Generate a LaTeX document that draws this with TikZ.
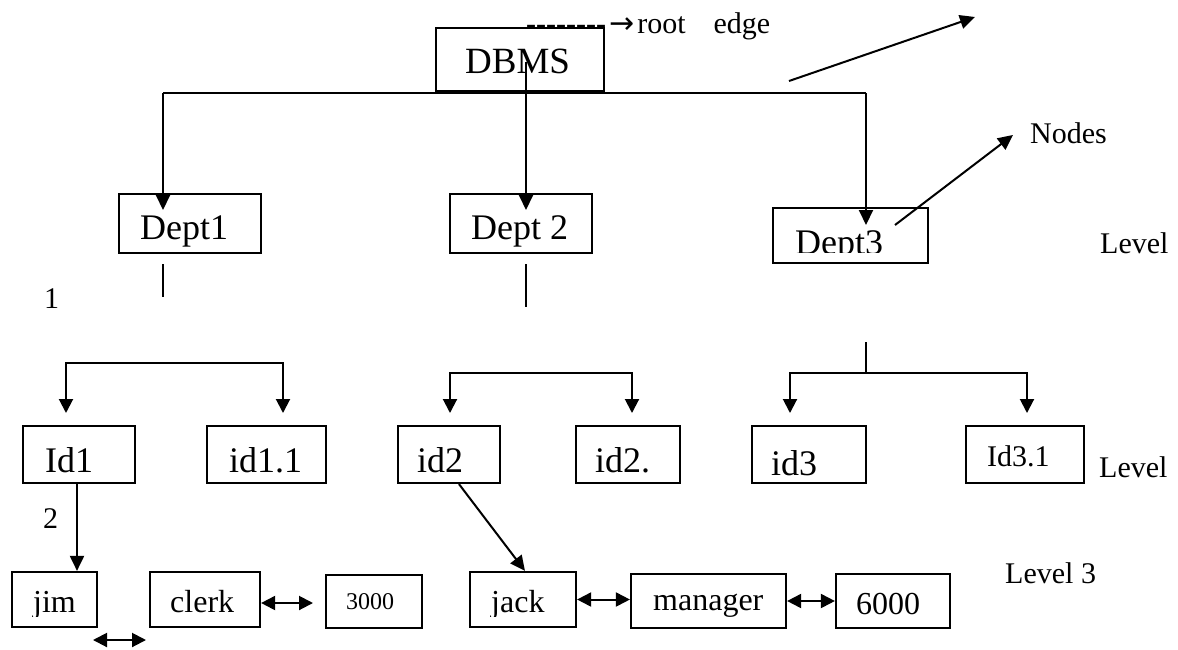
\documentclass[tikz,border=0pt]{standalone}
\usepackage{fontspec}
\setmainfont{Liberation Serif}
\newfontfamily\arrowglyph{DejaVu Sans}
\usetikzlibrary{arrows.meta}

\begin{document}
\begin{tikzpicture}[x=1pt,y=-1pt,
  box/.style={draw, line width=2.2pt, inner sep=0pt},
  conn/.style={line width=2pt},
  arr/.style={conn, -{Triangle[length=15pt,width=14pt]}},
  twoway/.style={conn, {Triangle[length=14pt,width=14pt]}-{Triangle[length=14pt,width=14pt]}},
  txt/.style={anchor=base west, inner sep=0pt},
  f24/.style={txt, font=\fontsize{24}{28}\selectfont},
  f30/.style={txt, font=\fontsize{30}{34}\selectfont},
  f32/.style={txt, font=\fontsize{32}{36}\selectfont},
  f36/.style={txt, font=\fontsize{36}{40}\selectfont},
  f37/.style={txt, font=\fontsize{37}{41}\selectfont}]

% canvas
\fill[white] (0,0) rectangle (1178,649);
\useasboundingbox (0,0) rectangle (1178,649);

% ---------- boxes ----------
\node[box, minimum width=168pt, minimum height=63pt] (dbms)    at (520,59.5)  {};
\node[box, minimum width=142pt, minimum height=59pt] (dept1)   at (190,223.5) {};
\node[box, minimum width=142pt, minimum height=59pt] (dept2)   at (521,223.5) {};
\node[box, minimum width=155pt, minimum height=55pt] (dept3)   at (850.5,235.5) {};

\node[box, minimum width=112pt, minimum height=57pt] (id1)     at (79,454.5)   {};
\node[box, minimum width=119pt, minimum height=57pt] (id11)    at (266.5,454.5) {};
\node[box, minimum width=102pt, minimum height=57pt] (id2)     at (449,454.5)  {};
\node[box, minimum width=104pt, minimum height=57pt] (id2b)    at (628,454.5)  {};
\node[box, minimum width=114pt, minimum height=57pt] (id3)     at (809,454.5)  {};
\node[box, minimum width=118pt, minimum height=57pt] (id31)    at (1025,454.5) {};

\node[box, minimum width=85pt,  minimum height=55pt] (jim)     at (54.5,599.5) {};
\node[box, minimum width=110pt, minimum height=55pt] (clerk)   at (205,599.5)  {};
\node[box, minimum width=96pt,  minimum height=53pt] (sal1)    at (374,601.5)  {};
\node[box, minimum width=106pt, minimum height=55pt] (jack)    at (523,599.5)  {};
\node[box, minimum width=155pt, minimum height=54pt] (manager) at (708.5,601)  {};
\node[box, minimum width=114pt, minimum height=54pt] (sal2)    at (893,601)    {};

% ---------- box texts ----------
\node[f37] (tdbms) at (465,73) {DBMS};
\node[f36] (tdept1) at (140,239) {Dept1};
\node[f36] (tdept2) at (471,239) {Dept 2};
\begin{scope}
  \clip (773,208) rectangle (928,252);
  \node[f36] (tdept3) at (795,254) {Dept3};
\end{scope}

\node[f36] (tid1)  at (45,472)  {Id1};
\node[f36] (tid11) at (229,472) {id1.1};
\node[f36] (tid2)  at (417,472) {id2};
\node[f36] (tid2b) at (595,472) {id2.};
\node[f36] (tid3)  at (771,475) {id3};
\node[f30] (tid31) at (987,466) {Id3.1};

\begin{scope}
  \clip (12,572) rectangle (97,616);
  \node[f32] (tjim) at (33,612) {jim};
\end{scope}
\node[f32] (tclerk) at (170,612) {clerk};
\node[f24] (tsal1)  at (346,609) {3000};
\begin{scope}
  \clip (470,572) rectangle (576,616);
  \node[f32] (tjack) at (491,612) {jack};
\end{scope}
\begin{scope}
  \clip (631,574) rectangle (786,617);
  \node[f32] (tmanager) at (653,610) {manager};
\end{scope}
\node[f32] (tsal2) at (856,614) {6000};

% ---------- free labels ----------
\node[f30] (rootedge) at (526,33) {{-}{-}{-}{-}{-}{-}{-}{-}\hspace{3pt}{\arrowglyph →}\hspace{3pt}root\hspace{28pt}edge};
\node[f30] (nodeslbl) at (1030,143) {Nodes};
\node[f30] (lvl1)  at (1100,253) {Level};
\node[f30] (one)   at (44,308)   {1};
\node[f30] (lvl2)  at (1099,477) {Level};
\node[f30] (two)   at (43,528)   {2};
\node[f30] (lvl3)  at (1005,583) {Level 3};

% ---------- root to departments ----------
\coordinate (busL) at (163,93);
\coordinate (busR) at (866,93);
\coordinate (d1tip) at (163,210);
\coordinate (d2top) at (526,62);
\coordinate (d2tip) at (526,210);
\coordinate (d3tip) at (866,225);
\draw[conn] (busL) -- (busR);
\draw[arr] (busL) -- (d1tip);
\draw[arr] (d2top) -- (d2tip);
\draw[arr] (busR) -- (d3tip);

% pointers to the side labels
\coordinate (edgeS) at (789,81);
\coordinate (edgeE) at (975,17);
\draw[arr] (edgeS) -- (edgeE);
\coordinate (nodeS) at (895,225);
\coordinate (nodeE) at (1013,135);
\draw[arr] (nodeS) -- (nodeE);

% short stubs under the departments
\coordinate (s1a) at (163,264); \coordinate (s1b) at (163,297);
\coordinate (s2a) at (525.5,264); \coordinate (s2b) at (525.5,307);
\draw[conn] (s1a) -- (s1b);
\draw[conn] (s2a) -- (s2b);

% ---------- department to id groups ----------
\coordinate (g1a) at (66,413);  \coordinate (g1b) at (283,413);
\draw[twoway] (g1a) -- (66,363) -- (283,363) -- (g1b);
\coordinate (g2a) at (450,413); \coordinate (g2b) at (632,413);
\draw[twoway] (g2a) -- (450,373) -- (632,373) -- (g2b);
\coordinate (g3a) at (790,413); \coordinate (g3b) at (1027,413);
\draw[twoway] (g3a) -- (790,373) -- (1027,373) -- (g3b);
\coordinate (s3) at (866,342);
\draw[conn] (s3) -- (866,373);

% ---------- ids to records ----------
\draw[arr] ([xshift=-2pt]id1.south) -- ([xshift=-2pt]id1.south |- jim.north);
\draw[arr] ([xshift=10pt]id2.south) -- ([xshift=2pt]jack.north);

% ---------- record links ----------
\coordinate (c3k) at (313,603);
\draw[twoway] (clerk.east |- c3k) -- (c3k);
\draw[twoway] (jack.east) -- (jack.east -| manager.west);
\draw[twoway] (manager.east) -- (manager.east -| sal2.west);
\coordinate (jl) at (93,640); \coordinate (jr) at (146,640);
\draw[twoway] (jl) -- (jr);

\end{tikzpicture}
\end{document}
